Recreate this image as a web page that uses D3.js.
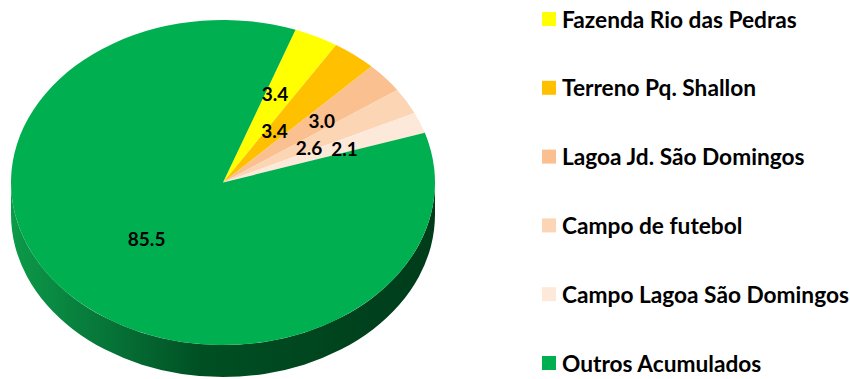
<!DOCTYPE html>
<html>
<head>
<meta charset="utf-8">
<script src="https://cdn.jsdelivr.net/npm/d3@7"></script>
<style>
  html, body { margin: 0; padding: 0; background: #fff; }
  svg { display: block; }
  text { font-family: Lato, "Open Sans", sans-serif; font-weight: 700; fill: #000; }
</style>
</head>
<body>
<svg id="chart" width="850" height="379"></svg>
<script>
// Shares of each area (%)
const categories = [
  "Fazenda Rio das Pedras",
  "Terreno Pq. Shallon",
  "Lagoa Jd. São Domingos",
  "Campo de futebol",
  "Campo Lagoa São Domingos",
  "Outros Acumulados"
];
const values = [3.4, 3.4, 3.0, 2.6, 2.1, 85.5];
const colors = ["#ffff00", "#ffc000", "#fac090", "#fcd5b5", "#fde9d9", "#00b050"];

// Layout of the tilted pie
const cx = 223, cy = 182.5, rx = 212, ry = 162.5, depth = 32;
const startDeg = 20;
// Where each value label sits: fraction of the radius and a small angular nudge (deg)
const labelRadius = [0.6, 0.4, 0.6, 0.46, 0.61, 0.5];
const labelNudge = [-2, -1, 1, 2, 1.5, 0];

const svg = d3.select("#chart");
const defs = svg.append("defs");

const grad = defs.append("linearGradient")
  .attr("id", "sideGrad")
  .attr("gradientUnits", "userSpaceOnUse")
  .attr("x1", cx - rx).attr("y1", 0)
  .attr("x2", cx + rx).attr("y2", 0);
[[0, "#0c9a49"], [0.2, "#07793a"], [0.45, "#004f23"], [1, "#003c1a"]]
  .forEach(([o, c]) => grad.append("stop").attr("offset", o).attr("stop-color", c));

const pie = d3.pie()
  .sort(null)
  .value(d => d)
  .startAngle(startDeg * Math.PI / 180)
  .endAngle(startDeg * Math.PI / 180 + 2 * Math.PI);
const arcs = pie(values);

// Front wall of the disc (only the large slice faces the viewer)
svg.append("path")
  .attr("d", `M${cx + rx},${cy} A${rx},${ry} 0 0 1 ${cx - rx},${cy}` +
             ` L${cx - rx},${cy + depth} A${rx},${ry} 0 0 0 ${cx + rx},${cy + depth} Z`)
  .attr("fill", "url(#sideGrad)");

// Top face: circular arcs squashed vertically into the ellipse
const arc = d3.arc().innerRadius(0).outerRadius(rx);
svg.append("g")
  .attr("transform", `translate(${cx},${cy}) scale(1,${ry / rx})`)
  .selectAll("path")
  .data(arcs)
  .join("path")
  .attr("d", arc)
  .attr("fill", (d, i) => colors[i]);

// Value labels
const fmt = d3.format(".1f");
svg.append("g")
  .selectAll("text")
  .data(arcs)
  .join("text")
  .attr("x", (d, i) => {
    const a = (d.startAngle + d.endAngle) / 2 + labelNudge[i] * Math.PI / 180;
    return cx + rx * labelRadius[i] * Math.sin(a);
  })
  .attr("y", (d, i) => {
    const a = (d.startAngle + d.endAngle) / 2 + labelNudge[i] * Math.PI / 180;
    return cy - ry * labelRadius[i] * Math.cos(a);
  })
  .attr("text-anchor", "middle")
  .attr("dominant-baseline", "central")
  .attr("font-size", 19)
  .text(d => fmt(d.value));

// Legend
const legendY = d3.scalePoint().domain(categories).range([19, 363]);
const legend = svg.append("g")
  .selectAll("g")
  .data(categories)
  .join("g")
  .attr("transform", d => `translate(542,${legendY(d)})`);
legend.append("rect")
  .attr("x", 0).attr("y", -7)
  .attr("width", 14).attr("height", 14)
  .attr("fill", (d, i) => colors[i]);
legend.append("text")
  .attr("x", 20).attr("y", 0)
  .attr("dominant-baseline", "central")
  .attr("font-size", 22.7)
  .text(d => d);
</script>
</body>
</html>
